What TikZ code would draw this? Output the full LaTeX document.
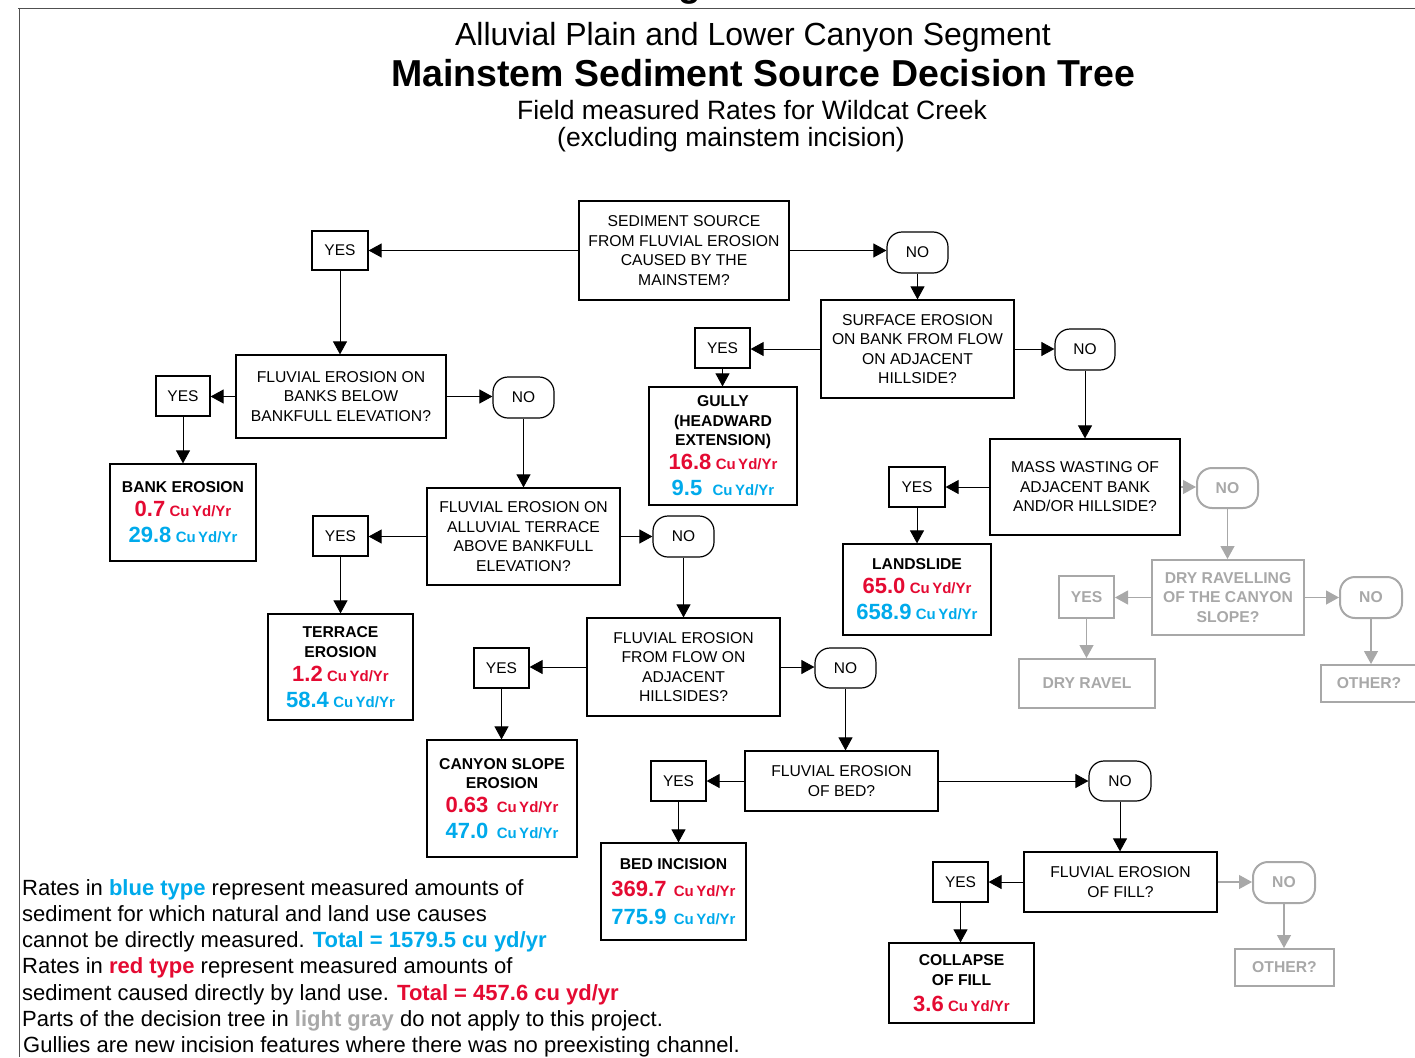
\documentclass[tikz,border=0pt]{standalone}
\usepackage{fontspec}
\setmainfont{Liberation Sans}
\usetikzlibrary{arrows.meta}

\definecolor{rd}{RGB}{228,10,50}
\definecolor{bl}{RGB}{0,170,235}
\definecolor{lg}{RGB}{168,168,168}
\definecolor{rule}{RGB}{80,80,80}

% rate figures inside the result boxes
\newcommand\rval[2]{{\color{#1}\fontsize{22}{19.5}\selectfont #2}}
\newcommand\runit[1]{{\color{#1}\fontsize{15}{19.5}\selectfont Cu\,Yd/Yr}}

\tikzset{
  box/.style={draw, line width=1.2pt, inner sep=0pt, align=center,
    font=\fontsize{15.7}{19.5}\selectfont},
  yesbox/.style={box, font=\fontsize{15.5}{19}\selectfont},
  nobox/.style={yesbox, rounded corners=15pt},
  res/.style={box, font=\fontsize{15.7}{19.5}\selectfont\bfseries},
  off/.style={draw=lg, text=lg, line width=2pt, inner sep=0pt, align=center,
    font=\fontsize{15.7}{19.5}\selectfont\bfseries},
  offno/.style={off, rounded corners=15pt},
  link/.style={line width=0.9pt, -{Triangle[length=13pt,width=14pt]}},
  offlink/.style={link, draw=lg, line width=1.2pt},
  sz/.style 2 args={minimum width=#1pt, minimum height=#2pt},
  legend/.style={anchor=base west, inner sep=0pt,
    font=\fontsize{22}{26}\selectfont}
}

\begin{document}
\begin{tikzpicture}[x=1pt,y=-1pt]
\useasboundingbox (0,0) rectangle (1415,1057);

% page frame
\node[anchor=base, inner sep=0pt, font=\fontsize{37}{40}\selectfont\bfseries] (cut) at (690,-3) {g};
\draw[rule, line width=1.3pt] (18,8.5) -- (1415,8.5);
\draw[rule, line width=1.3pt] (19.5,8.5) -- (19.5,1057);

% titles
\node[font=\fontsize{32}{36}\selectfont] (t1) at (753,37) {Alluvial Plain and Lower Canyon Segment};
\node[font=\fontsize{37.5}{42}\selectfont\bfseries] (t2) at (763,73) {Mainstem Sediment Source Decision Tree};
\node[font=\fontsize{26.5}{30}\selectfont] (t3) at (752,110) {Field measured Rates for Wildcat Creek};
\node[font=\fontsize{26.5}{30}\selectfont] (t4) at (731,140) {(excluding mainstem incision)};

% questions
\node[box, sz={210}{99}] (q1) at (684,250.5) {SEDIMENT SOURCE\\FROM FLUVIAL EROSION\\CAUSED BY THE\\MAINSTEM?};
\node[box, sz={210}{83}] (q2) at (341,396.5) {FLUVIAL EROSION ON\\BANKS BELOW\\BANKFULL ELEVATION?};
\node[box, sz={193}{97}] (q3) at (523.5,536.5) {FLUVIAL EROSION ON\\ALLUVIAL TERRACE\\ABOVE BANKFULL\\ELEVATION?};
\node[box, sz={193}{98}] (q4) at (683.5,667) {FLUVIAL EROSION\\FROM FLOW ON\\ADJACENT\\HILLSIDES?};
\node[box, sz={193}{60}] (q5) at (841.5,781) {FLUVIAL EROSION\\OF BED?};
\node[box, sz={193}{60}] (q6) at (1120.5,882) {FLUVIAL EROSION\\OF FILL?};
\node[box, sz={193}{98}] (q7) at (917.5,349) {SURFACE EROSION\\ON BANK FROM FLOW\\ON ADJACENT\\HILLSIDE?};
\node[box, sz={190}{96}] (q8) at (1085,487) {MASS WASTING OF\\ADJACENT BANK\\AND/OR HILLSIDE?};
\node[off, sz={152}{75}] (q9) at (1228,597.5) {DRY RAVELLING\\OF THE CANYON\\SLOPE?};

% answers
\node[yesbox, sz={56}{39}] (yes1) at (340,250.5) {YES};
\node[nobox, sz={61}{41}] (no1) at (917.5,252.5) {NO};
\node[yesbox, sz={54}{40}] (yes2) at (183,396) {YES};
\node[nobox, sz={61}{41}] (no2) at (523.5,397.5) {NO};
\node[yesbox, sz={55}{40}] (yes3) at (340.5,536) {YES};
\node[nobox, sz={61}{41}] (no3) at (683.5,536.5) {NO};
\node[yesbox, sz={55}{40}] (yes4) at (501.5,668) {YES};
\node[nobox, sz={61}{40}] (no4) at (845.5,668) {NO};
\node[yesbox, sz={55}{40}] (yes5) at (678.5,781) {YES};
\node[nobox, sz={62}{40}] (no5) at (1120,781) {NO};
\node[yesbox, sz={55}{40}] (yes6) at (960.5,882) {YES};
\node[offno, sz={62}{41}] (no6) at (1284,882.5) {NO};
\node[yesbox, sz={55}{40}] (yes7) at (722.5,348) {YES};
\node[nobox, sz={60}{41}] (no7) at (1085,349.5) {NO};
\node[yesbox, sz={56}{40}] (yes8) at (917,487) {YES};
\node[offno, sz={61}{40}] (no8) at (1227.5,488) {NO};
\node[off, sz={55}{42}] (yes9) at (1086.5,597) {YES};
\node[offno, sz={62}{41}] (no9) at (1371,597.5) {NO};

% outcomes
\node[res, sz={146}{97}] (bank) at (183,512.5)
  {BANK EROSION\\[4.5pt]\rval{rd}{0.7} \runit{rd}\\[6.5pt]\rval{bl}{29.8} \runit{bl}};
\node[res, sz={145}{106}] (terr) at (340.5,667)
  {TERRACE\\EROSION\\[4.5pt]\rval{rd}{1.2} \runit{rd}\\[6.5pt]\rval{bl}{58.4} \runit{bl}};
\node[res, sz={150}{117}] (canyon) at (502,798.5)
  {CANYON SLOPE\\EROSION\\[4.5pt]\rval{rd}{0.63}\hspace{4pt} \runit{rd}\\[6.5pt]\rval{bl}{47.0}\hspace{4pt} \runit{bl}};
\node[res, sz={145}{97}] (bed) at (673.5,891.5)
  {BED INCISION\\[7.5pt]\rval{rd}{369.7}\hspace{3pt} \runit{rd}\\[8.5pt]\rval{bl}{775.9}\hspace{3pt} \runit{bl}};
\node[res, sz={145}{80}] (coll) at (961.5,983)
  {COLLAPSE\\OF FILL\\[6.5pt]\rval{rd}{3.6} \runit{rd}};
\node[res, sz={148}{118}] (gully) at (723,446)
  {GULLY\\(HEADWARD\\EXTENSION)\\[4.5pt]\rval{rd}{16.8} \runit{rd}\\[6.5pt]\rval{bl}{9.5}\hspace{6pt} \runit{bl}};
\node[res, sz={148}{91}] (land) at (917,589.5)
  {LANDSLIDE\\[4.5pt]\rval{rd}{65.0} \runit{rd}\\[6.5pt]\rval{bl}{658.9} \runit{bl}};
\node[off, sz={99}{37}] (other1) at (1284.5,967.5) {OTHER?};
\node[off, sz={136}{49}] (ravel) at (1087,683.5) {DRY RAVEL};
\node[off, sz={96}{37}] (other2) at (1369,683.5) {OTHER?};

% connectors
\foreach \q/\y/\n in {q1/yes1/no1, q2/yes2/no2, q3/yes3/no3, q4/yes4/no4,
                      q5/yes5/no5, q7/yes7/no7} {
  \draw[link] (\q.west) -- (\q.west -| \y.east);
  \draw[link] (\q.east) -- (\q.east -| \n.west);
}
\draw[link] (q6.west) -- (q6.west -| yes6.east);
\draw[offlink] (q6.east) -- (q6.east -| no6.west);
\draw[link] (q8.west) -- (q8.west -| yes8.east);
\draw[offlink] (q8.east) -- (q8.east -| no8.west);
\draw[offlink] (q9.west) -- (q9.west -| yes9.east);
\draw[offlink] (q9.east) -- (q9.east -| no9.west);

\foreach \a/\b in {yes1/q2, no1/q7, yes2/bank, no2/q3, yes3/terr, no3/q4,
                   yes4/canyon, no4/q5, yes5/bed, no5/q6, yes6/coll,
                   yes7/gully, no7/q8, yes8/land} {
  \draw[link] (\a.south) -- (\a.south |- \b.north);
}
\foreach \a/\b in {no6/other1, no8/q9, yes9/ravel, no9/other2} {
  \draw[offlink] (\a.south) -- (\a.south |- \b.north);
}

% notes
\node[legend] (n1) at (22,895) {Rates in {\color{bl}\bfseries blue type} represent measured amounts of};
\node[legend] (n2) at (22,921.3) {sediment for which natural and land use causes};
\node[legend] (n3) at (22,947.6) {cannot be directly measured. {\color{bl}\bfseries Total = 1579.5 cu yd/yr}};
\node[legend] (n4) at (22,973.9) {Rates in {\color{rd}\bfseries red type} represent measured amounts of};
\node[legend] (n5) at (22,1000.2) {sediment caused directly by land use. {\color{rd}\bfseries Total = 457.6 cu yd/yr}};
\node[legend] (n6) at (22,1026.5) {Parts of the decision tree in {\color{lg}\bfseries light gray} do not apply to this project.};
\node[legend] (n7) at (23,1052.8) {Gullies are new incision features where there was no preexisting channel.};
\end{tikzpicture}
\end{document}
